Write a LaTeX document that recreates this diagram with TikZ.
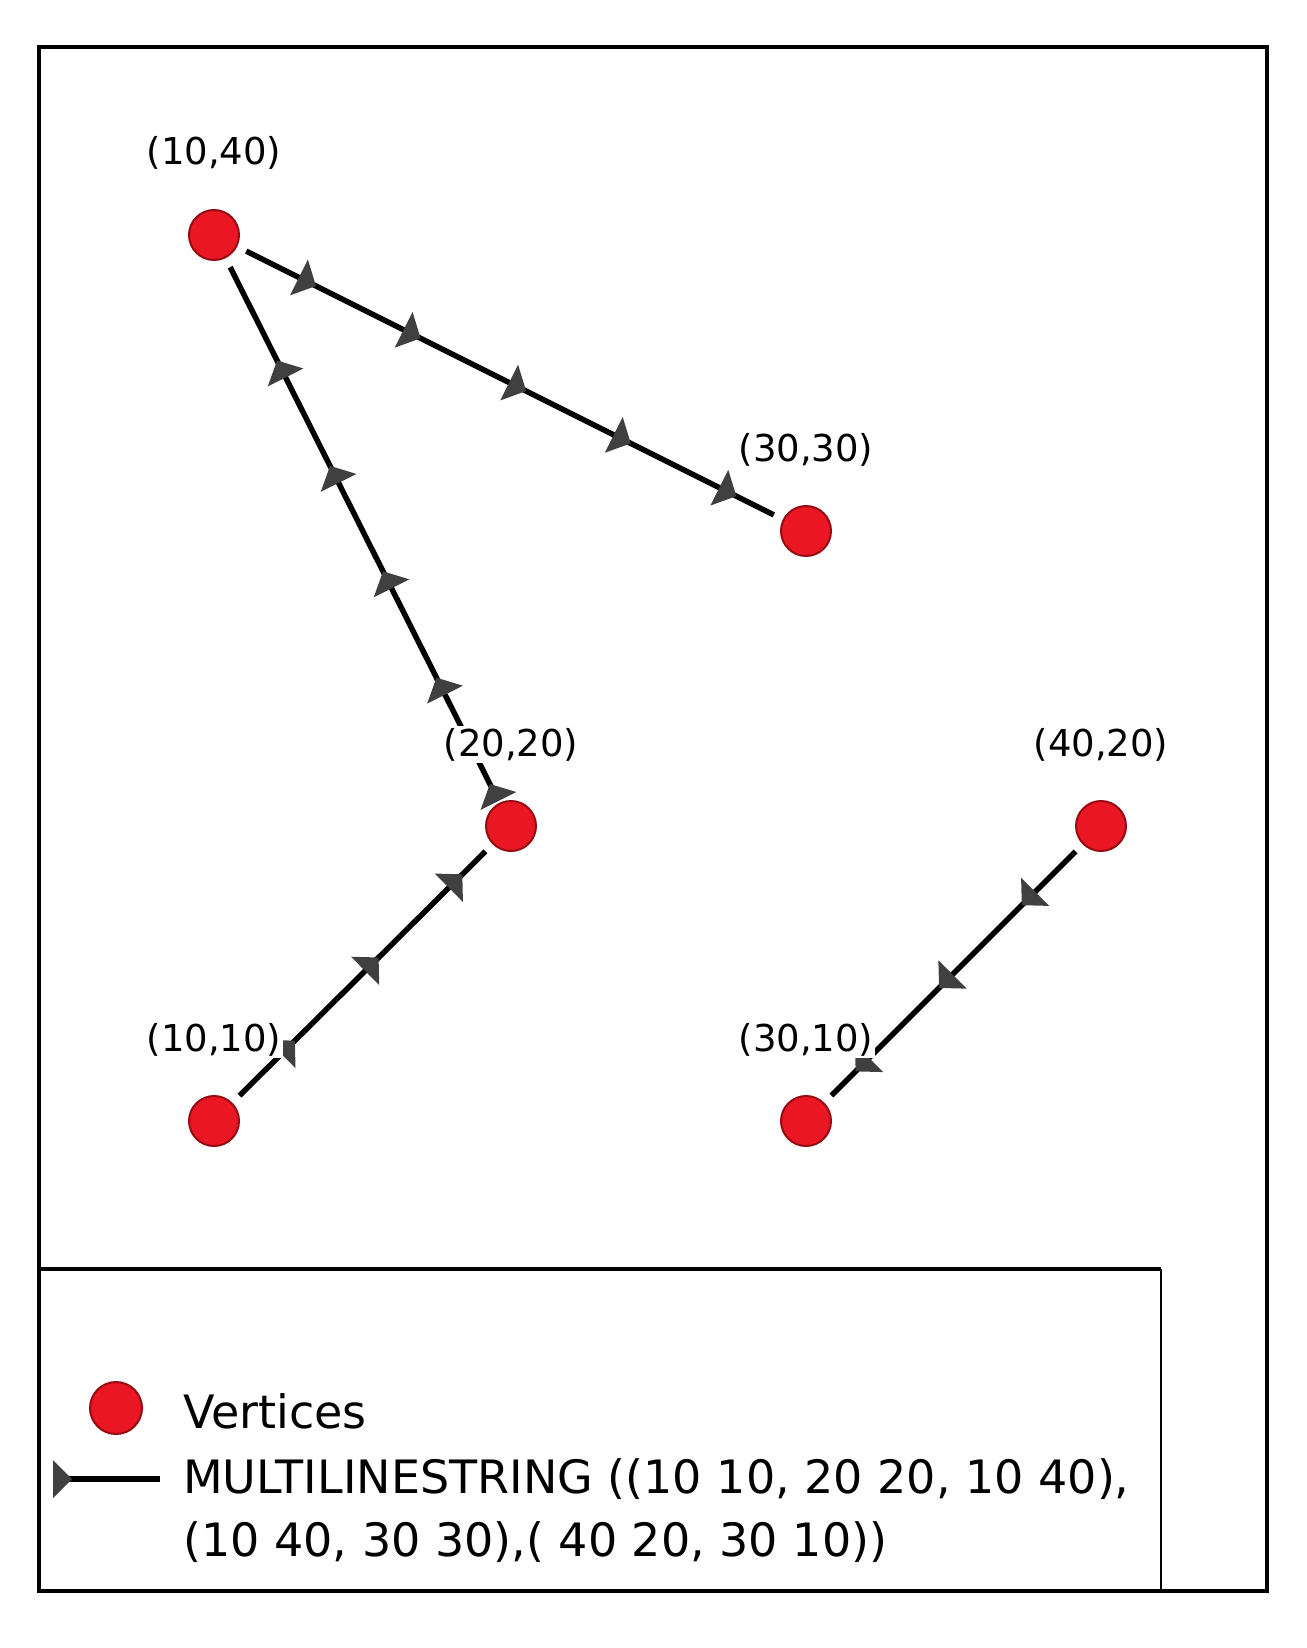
\documentclass[tikz,border=0pt]{standalone}
\usepackage{fontspec}
\setmainfont{DejaVu Sans}
\usetikzlibrary{decorations.markings}
\definecolor{vfill}{RGB}{235,22,36}
\definecolor{vedge}{RGB}{150,12,18}
\definecolor{mkcol}{RGB}{64,64,64}
\newcommand{\mytri}{\fill[mkcol] (9,0) -- (-10,20) -- (-10,-20) -- cycle;}
\tikzset{
  vtx/.style={circle, fill=vfill, draw=vedge, line width=2pt, minimum size=50pt, inner sep=0pt},
  seg/.style={line width=5.5pt, black, shorten <=10pt, shorten >=10pt},
  lbl/.style={fill=white, inner sep=2pt, font=\fontsize{37}{44}\selectfont, anchor=base},
  legtxt/.style={font=\fontsize{46}{55}\selectfont, anchor=base west, inner sep=0pt},
  frameline/.style={line width=4pt, black},
}
\begin{document}
\begin{tikzpicture}[x=1pt,y=-1pt]
\useasboundingbox (0,0) rectangle (1306,1648);
% frame
\draw[frameline] (39,47) rectangle (1267,1591);
\draw[frameline] (39,1269) -- (1161,1269);
\draw[line width=2pt] (1161,1269) -- (1161,1591);
% vertices
\node[vtx] (v1040) at (214,235) {};
\node[vtx] (v3030) at (806,531) {};
\node[vtx] (v2020) at (511,826) {};
\node[vtx] (v4020) at (1101,826) {};
\node[vtx] (v1010) at (214,1121) {};
\node[vtx] (v3010) at (806,1121) {};
% lines
\draw[seg] (v1010) -- (v2020);
\draw[seg] (v2020) -- (v1040);
\draw[seg] (v1040) -- (v3030);
\draw[seg] (v4020) -- (v3010);
% direction markers
\path[decorate, decoration={markings,
  mark=at position 105pt with {\mytri},
  mark=at position 223pt with {\mytri},
  mark=at position 341pt with {\mytri}}] (v1010.center) -- (v2020.center);
\path[decorate, decoration={markings,
  mark=at position 38pt with {\mytri},
  mark=at position 157pt with {\mytri},
  mark=at position 276pt with {\mytri},
  mark=at position 394pt with {\mytri},
  mark=at position 512pt with {\mytri}}] (v2020.center) -- (v1040.center);
\path[decorate, decoration={markings,
  mark=at position 105pt with {\mytri},
  mark=at position 222pt with {\mytri},
  mark=at position 340pt with {\mytri},
  mark=at position 457pt with {\mytri},
  mark=at position 575pt with {\mytri}}] (v1040.center) -- (v3030.center);
\path[decorate, decoration={markings,
  mark=at position 103pt with {\mytri},
  mark=at position 220pt with {\mytri},
  mark=at position 338pt with {\mytri}}] (v4020.center) -- (v3010.center);
% labels
\node[lbl] (l1040) at (214,165) {(10,40)};
\node[lbl] (l3030) at (806,461) {(30,30)};
\node[lbl] (l2020) at (511,756) {(20,20)};
\node[lbl] (l4020) at (1101,756) {(40,20)};
\node[lbl] (l1010) at (214,1051) {(10,10)};
\node[lbl] (l3010) at (806,1051) {(30,10)};
% legend
\node[vtx, minimum size=52pt] (legv) at (116,1408) {};
\node[legtxt] (legvt) at (183,1428) {Vertices};
\coordinate (legls) at (53,1479);
\coordinate (legle) at (160,1479);
\draw[line width=5.5pt] (legls) -- (legle);
\fill[mkcol] (53,1460) -- (72,1479) -- (53,1498) -- cycle;
\node[legtxt] (legl1) at (183,1493) {MULTILINESTRING ((10 10, 20 20, 10 40),};
\node[legtxt] (legl2) at (183,1556) {(10 40, 30 30),( 40 20, 30 10))};
\end{tikzpicture}
\end{document}
